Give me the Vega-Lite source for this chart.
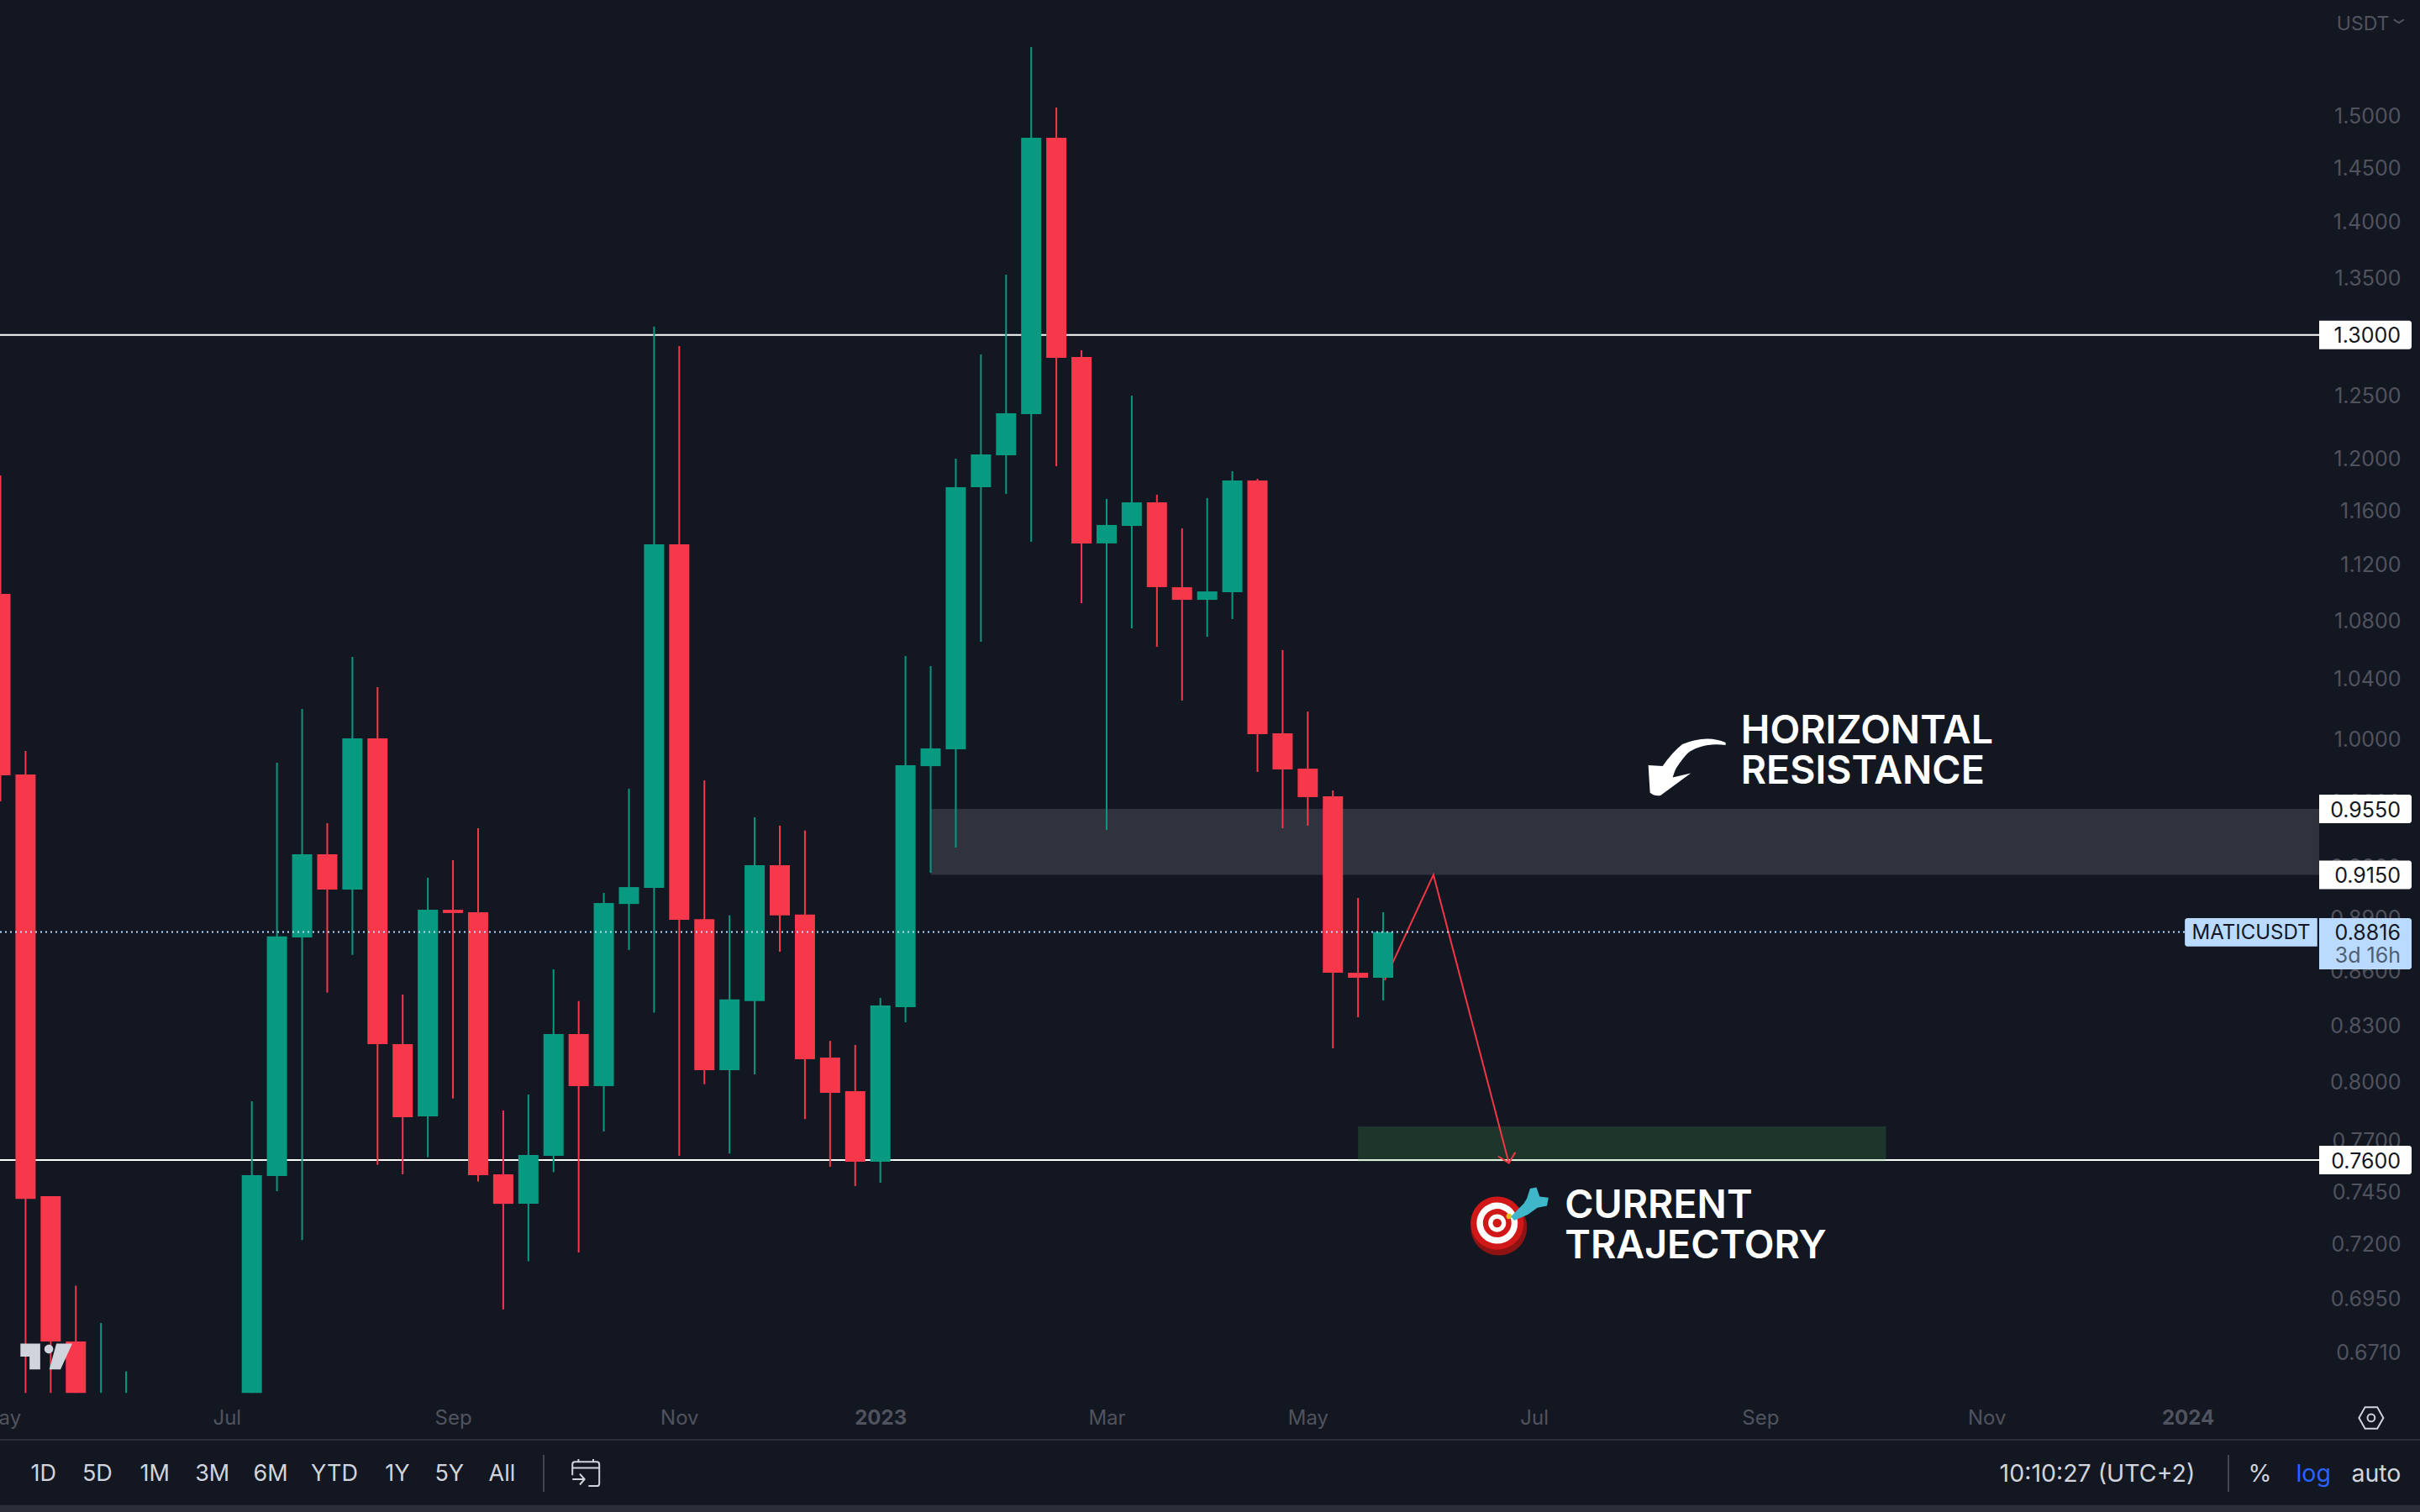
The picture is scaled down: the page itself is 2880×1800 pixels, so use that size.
{
"$schema":"https://vega.github.io/schema/vega-lite/v6.json",
"width":2880,"height":1800,"padding":0,"autosize":{"type":"none"},
"background":"#131722",
"config":{"view":{"stroke":null},"font":"Inter","scale":{"continuousPadding":0}},
"datasets":{
"candles":[
{"date":"2022-05-02","open":1.0984,"close":0.9761,"high":1.1864,"low":0.9598},
{"date":"2022-05-09","open":0.9767,"close":0.7411,"high":0.9917,"low":0.6532},
{"date":"2022-05-16","open":0.7424,"close":0.6754,"high":0.7424,"low":0.6532},
{"date":"2022-05-23","open":0.6754,"close":0.6532,"high":0.7004,"low":0.6532},
{"date":"2022-05-30","open":0.6532,"close":0.6532,"high":0.6836,"low":0.6532},
{"date":"2022-06-06","open":0.6532,"close":0.6532,"high":0.6624,"low":0.6532},
{"date":"2022-07-11","open":0.6532,"close":0.7526,"high":0.7897,"low":0.6532},
{"date":"2022-07-18","open":0.7522,"close":0.879,"high":0.9842,"low":0.7448},
{"date":"2022-07-25","open":0.8785,"close":0.9273,"high":1.0192,"low":0.7215},
{"date":"2022-08-01","open":0.9273,"close":0.9062,"high":0.9462,"low":0.8475},
{"date":"2022-08-08","open":0.9062,"close":0.9999,"high":1.0543,"low":0.8686},
{"date":"2022-08-15","open":0.9999,"close":0.8196,"high":1.0338,"low":0.7577},
{"date":"2022-08-22","open":0.8196,"close":0.7815,"high":0.8464,"low":0.753},
{"date":"2022-08-29","open":0.7819,"close":0.8944,"high":0.9132,"low":0.7615},
{"date":"2022-09-05","open":0.8944,"close":0.8925,"high":0.9237,"low":0.7911},
{"date":"2022-09-12","open":0.893,"close":0.7526,"high":0.9431,"low":0.7495},
{"date":"2022-09-19","open":0.753,"close":0.7387,"high":0.7849,"low":0.6897},
{"date":"2022-09-26","open":0.7387,"close":0.7625,"high":0.7931,"low":0.7116},
{"date":"2022-10-03","open":0.7621,"close":0.8249,"high":0.8604,"low":0.7541},
{"date":"2022-10-10","open":0.8249,"close":0.7975,"high":0.8428,"low":0.7157},
{"date":"2022-10-17","open":0.7975,"close":0.8983,"high":0.9043,"low":0.7743},
{"date":"2022-10-24","open":0.8978,"close":0.9077,"high":0.9677,"low":0.8713},
{"date":"2022-10-31","open":0.9072,"close":1.1344,"high":1.3071,"low":0.8365},
{"date":"2022-11-07","open":1.1344,"close":0.8886,"high":1.2906,"low":0.7621},
{"date":"2022-11-14","open":0.889,"close":0.8058,"high":0.973,"low":0.7984},
{"date":"2022-11-21","open":0.8058,"close":0.8437,"high":0.8911,"low":0.7633},
{"date":"2022-11-28","open":0.8428,"close":0.9207,"high":0.9498,"low":0.8036},
{"date":"2022-12-05","open":0.9207,"close":0.8911,"high":0.9447,"low":0.8703},
{"date":"2022-12-12","open":0.8916,"close":0.8115,"high":0.9417,"low":0.7806},
{"date":"2022-12-19","open":0.8124,"close":0.794,"high":0.8213,"low":0.7567},
{"date":"2022-12-26","open":0.7949,"close":0.7592,"high":0.8191,"low":0.7473},
{"date":"2023-01-02","open":0.7592,"close":0.8404,"high":0.8445,"low":0.7489},
{"date":"2023-01-09","open":0.8395,"close":0.9826,"high":1.0549,"low":0.8313},
{"date":"2023-01-16","open":0.982,"close":0.9934,"high":1.048,"low":0.9162},
{"date":"2023-01-23","open":0.9928,"close":1.1774,"high":1.1995,"low":0.9313},
{"date":"2023-01-30","open":1.1774,"close":1.2027,"high":1.2836,"low":1.0648},
{"date":"2023-02-06","open":1.2021,"close":1.2354,"high":1.3519,"low":1.1722},
{"date":"2023-02-13","open":1.2347,"close":1.4779,"high":1.5677,"low":1.1363},
{"date":"2023-02-20","open":1.4779,"close":1.2807,"high":1.5073,"low":1.1936},
{"date":"2023-02-27","open":1.2814,"close":1.1351,"high":1.287,"low":1.0919},
{"date":"2023-03-06","open":1.1351,"close":1.1488,"high":1.1684,"low":0.9421},
{"date":"2023-03-13","open":1.1481,"close":1.1658,"high":1.2496,"low":1.0741},
{"date":"2023-03-20","open":1.1658,"close":1.1032,"high":1.1716,"low":1.0613},
{"date":"2023-03-27","open":1.1032,"close":1.0942,"high":1.1463,"low":1.0248},
{"date":"2023-04-03","open":1.0942,"close":1.1002,"high":1.1691,"low":1.0682},
{"date":"2023-04-10","open":1.0996,"close":1.1825,"high":1.1897,"low":1.0806},
{"date":"2023-04-17","open":1.1825,"close":1.0026,"high":1.1838,"low":0.9783},
{"date":"2023-04-24","open":1.0032,"close":0.9799,"high":1.059,"low":0.9431},
{"date":"2023-05-01","open":0.9804,"close":0.9624,"high":1.0175,"low":0.9447},
{"date":"2023-05-08","open":0.9629,"close":0.8585,"high":0.9666,"low":0.8173},
{"date":"2023-05-15","open":0.8585,"close":0.8557,"high":0.9013,"low":0.834},
{"date":"2023-05-22","open":0.8557,"close":0.8816,"high":0.893,"low":0.8432}
],
"badges":[
{"label":"1.3000","price":1.3,"top":1.3121,"bottom":1.288,"start":"2024-02-06T14:31:00Z","end":"2024-03-03T08:10:00Z","textAt":"2024-02-29T07:00:00Z"},
{"label":"0.9550","price":0.955,"top":0.9639,"bottom":0.9462,"start":"2024-02-06T14:31:00Z","end":"2024-03-03T08:10:00Z","textAt":"2024-02-29T07:00:00Z"},
{"label":"0.9150","price":0.915,"top":0.9235,"bottom":0.9065,"start":"2024-02-06T14:31:00Z","end":"2024-03-03T08:10:00Z","textAt":"2024-02-29T07:00:00Z"},
{"label":"0.7600","price":0.76,"top":0.7671,"bottom":0.753,"start":"2024-02-06T14:31:00Z","end":"2024-03-03T08:10:00Z","textAt":"2024-02-29T07:00:00Z"}
],
"dividers":[
{"date":"2022-09-30T06:00:00Z","top":0.6274,"bottom":0.6125},
{"date":"2024-01-12T08:00:00Z","top":0.6274,"bottom":0.6125}
]
},
"encoding":{
"x":{"field":"date","type":"temporal","title":null,"scale":{"type":"utc","domain":["2022-05-01T21:11:33Z","2024-03-05T16:19:00Z"],"nice":false,"padding":0},
   "axis":{"orient":"bottom","title":null,"grid":false,"domain":false,"ticks":false,"labelPadding":-112,"labelBaseline":"middle","labelFontSize":24,"labelFont":"Inter","labelColor":"#50535e","labelBound":false,"labelFlush":false,"labelOverlap":false,
    "values":["2022-05-02","2022-07-04","2022-09-05","2022-11-07","2023-01-02","2023-03-06","2023-05-01","2023-07-03","2023-09-04","2023-11-06","2024-01-01"],
    "labelExpr":"utcmonth(datum.value)===0 ? utcFormat(datum.value,'%Y') : utcFormat(datum.value,'%b')",
    "labelFontWeight":{"condition":{"test":"utcmonth(datum.value)===0","value":700},"value":400}}},
"y":{"field":"price","type":"quantitative","title":null,"scale":{"type":"log","domain":[0.60451,1.6164],"nice":false},
   "axis":{"orient":"right","title":null,"grid":false,"domain":false,"ticks":false,"labelPadding":-23,"labelOffset":1.5,"labelAlign":"right","labelFontSize":25,"labelFont":"Inter","labelColor":"#50535e","labelOverlap":false,"labelBound":false,"labelFlush":false,"format":".4f",
    "values":[1.5,1.45,1.4,1.35,1.3,1.25,1.2,1.16,1.12,1.08,1.04,1.0,0.96,0.92,0.89,0.86,0.83,0.8,0.77,0.745,0.72,0.695,0.671]}}
},
"layer":[
{"data":{"values":[{"start":"2023-01-16","end":"2024-02-06T14:31:00Z","top":0.955,"bottom":0.915}],"format":{"parse":{"start":"date","end":"date"}}},
 "mark":{"type":"rect","color":"#2f333e"},
 "encoding":{"x":{"field":"start"},"x2":{"field":"end"},"y":{"field":"top"},"y2":{"field":"bottom"}}},
{"data":{"values":[{"start":"2022-05-01T21:11:33Z","end":"2024-02-06T14:31:00Z","price":1.3},{"start":"2022-05-01T21:11:33Z","end":"2024-02-06T14:31:00Z","price":0.76}],"format":{"parse":{"start":"date","end":"date"}}},
 "mark":{"type":"rule","color":"#ffffff","strokeWidth":2},
 "encoding":{"x":{"field":"start"},"x2":{"field":"end"}}},
{"data":{"values":[{"start":"2023-05-15","end":"2023-10-09","top":0.7768,"bottom":0.7593}],"format":{"parse":{"start":"date","end":"date"}}},
 "mark":{"type":"rect","color":"#4caf50","opacity":0.2},
 "encoding":{"x":{"field":"start"},"x2":{"field":"end"},"y":{"field":"top"},"y2":{"field":"bottom"}}},
{"data":{"values":[{"date":"2023-05-22T09:00:00Z","price":0.8543},{"date":"2023-06-05","price":0.915},{"date":"2023-06-26","price":0.7585}]},
 "mark":{"type":"line","color":"#f23645","strokeWidth":2}},
{"data":{"values":[{"date":"2023-06-23","price":0.7619},{"date":"2023-06-26","price":0.7585},{"date":"2023-06-27T19:00:00Z","price":0.7639}]},
 "mark":{"type":"line","color":"#f23645","strokeWidth":2}},
{"data":{"name":"candles"},
 "mark":{"type":"rule","strokeWidth":2},
 "encoding":{"y":{"field":"low"},"y2":{"field":"high"},
  "color":{"condition":{"test":"datum.close>=datum.open","value":"#089981"},"value":"#f7374a"}}},
{"data":{"name":"candles"},
 "mark":{"type":"bar","width":24},
 "encoding":{"y":{"field":"open"},"y2":{"field":"close"},
  "color":{"condition":{"test":"datum.close>=datum.open","value":"#089981"},"value":"#f7374a"}}},
{"data":{"values":[{"start":"2022-05-01T21:11:33Z","end":"2023-12-31T05:00:00Z","price":0.8816}],"format":{"parse":{"start":"date","end":"date"}}},
 "mark":{"type":"rule","color":"#bbdaff","strokeWidth":2,"strokeDash":[2,4]},
 "encoding":{"x":{"field":"start"},"x2":{"field":"end"}}},
{"data":{"values":[{"date":"2023-08-29T14:00:00Z","price":0.99658,"label":"HORIZONTAL"},{"date":"2023-08-29T14:00:00Z","price":0.97078,"label":"RESISTANCE"},{"date":"2023-07-11T14:00:00Z","price":0.7319,"label":"CURRENT"},{"date":"2023-07-11T14:00:00Z","price":0.7131,"label":"TRAJECTORY"}]},
 "mark":{"type":"text","font":"Inter","fontWeight":600,"fontSize":46.5,"align":"left","baseline":"alphabetic","color":"#ffffff"},
 "encoding":{"text":{"field":"label"}}},
{"data":{"values":[{"date":"2023-08-14T14:00:00Z","price":0.9815}]},
 "mark":{"type":"point","filled":true,"color":"#ffffff","opacity":1,"size":10000,"shape":"M.92 -.58 Q.46 -.78 -.11 -.54 Q-.35 -.35 -.58 -.02 L-.92 -.04 L-.88 .61 Q-.8 .7 -.63 .68 L.09 .15 L-.34 .25 Q-.28 .05 -.23 -.01 Q0 -.35 .11 -.39 Q.46 -.58 .92 -.52 Z"}},
{"data":{"values":[{"date":"2022-05-14T18:00:00Z","price":0.6688}]},
 "mark":{"type":"point","filled":true,"color":"#d1d4dc","opacity":1,"size":3844,"shape":"M-.99 -.5 H-.23 V.49 H-.64 V0 H-.99 Z M-.07 -.29 A.17 .17 0 1 1 .27 -.29 A.17 .17 0 1 1 -.07 -.29 Z M.39 -.5 H1 L.55 .49 H.12 Z"}},
{"data":{"values":[{"date":"2023-06-23T05:00:00Z","price":0.7287}]},
 "mark":{"type":"point","filled":true,"color":"#8e1414","opacity":1,"size":4500,"xOffset":0,"yOffset":3}},
{"data":{"values":[{"date":"2023-06-23T05:00:00Z","price":0.7287}]},
 "mark":{"type":"point","filled":true,"color":"#d01818","opacity":1,"size":4000,"xOffset":-2,"yOffset":-2}},
{"data":{"values":[{"date":"2023-06-23T05:00:00Z","price":0.7287}]},
 "mark":{"type":"point","filled":true,"color":"#ffffff","opacity":1,"size":2400,"xOffset":-2,"yOffset":-2}},
{"data":{"values":[{"date":"2023-06-23T05:00:00Z","price":0.7287}]},
 "mark":{"type":"point","filled":true,"color":"#d01818","opacity":1,"size":1150,"xOffset":-2,"yOffset":-2}},
{"data":{"values":[{"date":"2023-06-23T05:00:00Z","price":0.7287}]},
 "mark":{"type":"point","filled":true,"color":"#ffffff","opacity":1,"size":450,"xOffset":-2,"yOffset":-2}},
{"data":{"values":[{"date":"2023-06-23T05:00:00Z","price":0.7287}]},
 "mark":{"type":"point","filled":true,"color":"#d01818","opacity":1,"size":110,"xOffset":-2,"yOffset":-2}},
{"data":{"values":[{"date":"2023-06-26","price":0.7327}]},
 "mark":{"type":"point","filled":true,"color":"#e8c020","opacity":1,"size":40}},
{"data":{"values":[{"date":"2023-06-30T12:00:00Z","price":0.7379}]},
 "mark":{"type":"point","filled":true,"color":"#3fb6c9","opacity":1,"size":3600,"shape":"M-.56 .44 L-.05 -.08 L.07 -.27 L.2 -.67 L.45 -.72 L.58 -.35 L.93 -.31 L.87 .01 L.49 .09 L.11 .36 L-.43 .6 Z"}},
{"data":{"name":"badges","format":{"parse":{"start":"date","end":"date"}}},
 "mark":{"type":"rect","color":"#ffffff","cornerRadiusTopRight":3,"cornerRadiusBottomRight":3},
 "encoding":{"x":{"field":"start"},"x2":{"field":"end"},"y":{"field":"top"},"y2":{"field":"bottom"}}},
{"data":{"name":"badges"},
 "mark":{"type":"text","font":"Inter","fontSize":25,"align":"right","baseline":"middle","dy":1.5,"color":"#131722"},
 "encoding":{"x":{"field":"textAt"},"text":{"field":"label"}}},
{"data":{"values":[{"start":"2024-02-06T14:31:00Z","end":"2024-03-03T08:10:00Z","top":0.8896,"bottom":0.8604}],"format":{"parse":{"start":"date","end":"date"}}},
 "mark":{"type":"rect","color":"#bbdaff","cornerRadiusTopRight":3,"cornerRadiusBottomRight":3},
 "encoding":{"x":{"field":"start"},"x2":{"field":"end"},"y":{"field":"top"},"y2":{"field":"bottom"}}},
{"data":{"values":[{"start":"2023-12-31T05:00:00Z","end":"2024-02-06T02:00:00Z","top":0.8896,"bottom":0.8733}],"format":{"parse":{"start":"date","end":"date"}}},
 "mark":{"type":"rect","color":"#bbdaff","cornerRadiusTopLeft":3,"cornerRadiusBottomLeft":3},
 "encoding":{"x":{"field":"start"},"x2":{"field":"end"},"y":{"field":"top"},"y2":{"field":"bottom"}}},
{"data":{"values":[{"date":"2024-02-29T07:00:00Z","price":0.8816,"label":"0.8816"}]},
 "mark":{"type":"text","font":"Inter","fontSize":25,"align":"right","baseline":"middle","dy":1.5,"color":"#131722"},
 "encoding":{"text":{"field":"label"}}},
{"data":{"values":[{"date":"2024-02-29T07:00:00Z","price":0.8685,"label":"3d 16h"}]},
 "mark":{"type":"text","font":"Inter","fontSize":25,"align":"right","baseline":"middle","dy":1.5,"color":"#4f5f74"},
 "encoding":{"text":{"field":"label"}}},
{"data":{"values":[{"date":"2024-01-18T16:00:00Z","price":0.8816,"label":"MATICUSDT"}]},
 "mark":{"type":"text","font":"Inter","fontSize":24,"align":"center","baseline":"middle","dy":1.5,"color":"#131722"},
 "encoding":{"text":{"field":"label"}}},
{"data":{"values":[{"date":"2024-02-18T19:00:00Z","price":1.5921,"label":"USDT"}]},
 "mark":{"type":"text","font":"Inter","fontSize":23,"align":"center","baseline":"middle","dy":1.5,"color":"#50535e"},
 "encoding":{"text":{"field":"label"}}},
{"data":{"values":[{"date":"2024-02-28T19:00:00Z","price":1.5945}]},
 "mark":{"type":"point","filled":false,"color":"#50535e","opacity":1,"strokeWidth":2,"size":144,"shape":"M-1 -.3 L0 .4 L1 -.3"}},
{"data":{"values":[{"start":"2022-05-01T21:11:33Z","end":"2024-03-05T16:19:00Z","price":0.6336}],"format":{"parse":{"start":"date","end":"date"}}},
 "mark":{"type":"rule","color":"#2a2e39","strokeWidth":2},
 "encoding":{"x":{"field":"start"},"x2":{"field":"end"}}},
{"data":{"values":[{"start":"2022-05-01T21:11:33Z","end":"2024-03-05T16:19:00Z","top":0.6072,"bottom":0.60451}],"format":{"parse":{"start":"date","end":"date"}}},
 "mark":{"type":"rect","color":"#2a2e39"},
 "encoding":{"x":{"field":"start"},"x2":{"field":"end"},"y":{"field":"top"},"y2":{"field":"bottom"}}},
{"data":{"name":"dividers"},
 "mark":{"type":"rule","color":"#434651","strokeWidth":2},
 "encoding":{"y":{"field":"top"},"y2":{"field":"bottom"}}},
{"data":{"values":[
 {"date":"2022-05-14","price":0.6195,"label":"1D"},{"date":"2022-05-29","price":0.6195,"label":"5D"},{"date":"2022-06-14","price":0.6195,"label":"1M"},{"date":"2022-06-30","price":0.6195,"label":"3M"},{"date":"2022-07-16T06:00:00Z","price":0.6195,"label":"6M"},{"date":"2022-08-03","price":0.6195,"label":"YTD"},{"date":"2022-08-20T13:00:00Z","price":0.6195,"label":"1Y"},{"date":"2022-09-04","price":0.6195,"label":"5Y"},{"date":"2022-09-18T16:00:00Z","price":0.6195,"label":"All"}]},
 "mark":{"type":"text","font":"Inter","fontSize":27,"align":"center","baseline":"middle","color":"#d1d4dc"},
 "encoding":{"text":{"field":"label"}}},
{"data":{"values":[{"date":"2023-12-06T20:00:00Z","price":0.6195,"label":"10:10:27 (UTC+2)"},{"date":"2024-01-21T03:00:00Z","price":0.6195,"label":"%"},{"date":"2024-02-22T12:00:00Z","price":0.6195,"label":"auto"}]},
 "mark":{"type":"text","font":"Inter","fontSize":28.5,"align":"center","baseline":"middle","color":"#d1d4dc"},
 "encoding":{"text":{"field":"label"}}},
{"data":{"values":[{"date":"2024-02-05","price":0.6195,"label":"log"}]},
 "mark":{"type":"text","font":"Inter","fontSize":28.5,"align":"center","baseline":"middle","color":"#2962ff"},
 "encoding":{"text":{"field":"label"}}},
{"data":{"values":[{"date":"2022-10-12","price":0.6202}]},
 "mark":{"type":"point","filled":false,"color":"#d1d4dc","opacity":1,"strokeWidth":2,"size":1024,"shape":"M-1 .2 V-.6 Q-1 -.8 -.8 -.8 H.8 Q1 -.8 1 -.6 V.8 Q1 1 .8 1 H.2 M-1 -.35 H1 M-.55 -1 V-.8 M.55 -1 V-.8 M-1 .5 H-.1 M-.45 .1 L-.1 .5 L-.45 .9"}},
{"data":{"values":[{"date":"2024-02-21T02:00:00Z","price":0.6427}]},
 "mark":{"type":"point","filled":false,"color":"#d1d4dc","opacity":1,"strokeWidth":2,"size":841,"shape":"M-1 0 L-.5 -.88 H.5 L1 0 L.5 .88 H-.5 Z M-.3 0 A.3 .3 0 1 1 .3 0 A.3 .3 0 1 1 -.3 0 Z"}}
]
}
